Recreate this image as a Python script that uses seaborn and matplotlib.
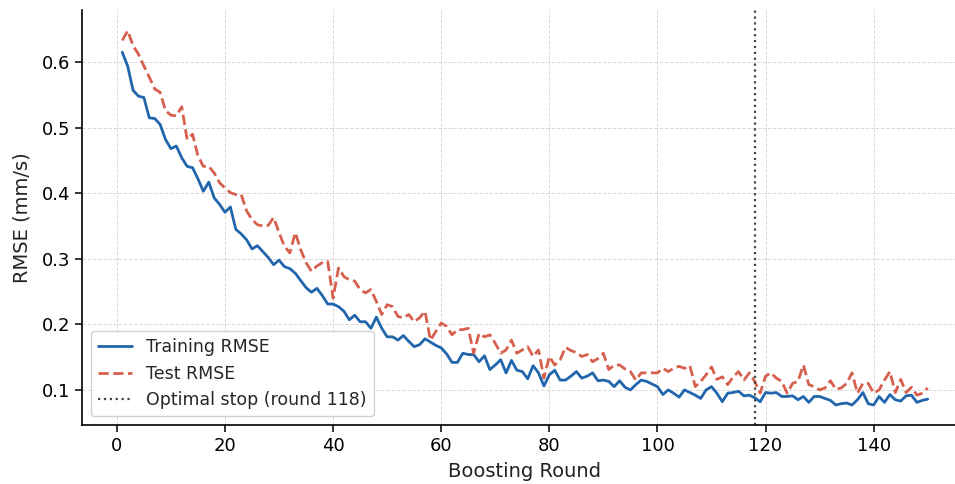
import numpy as np
import pandas as pd
import matplotlib
matplotlib.use("Agg")
import matplotlib.pyplot as plt
import seaborn as sns
from matplotlib.lines import Line2D

rounds = list(range(1, 151))

train_rmse = [
    0.615, 0.594, 0.557, 0.548, 0.546, 0.515, 0.514, 0.505, 0.482, 0.468,
    0.472, 0.454, 0.441, 0.439, 0.422, 0.403, 0.417, 0.393, 0.383, 0.371,
    0.379, 0.345, 0.338, 0.329, 0.315, 0.320, 0.311, 0.302, 0.291, 0.298,
    0.288, 0.285, 0.278, 0.267, 0.256, 0.249, 0.255, 0.244, 0.231, 0.231,
    0.227, 0.220, 0.207, 0.214, 0.204, 0.204, 0.194, 0.211, 0.194, 0.181,
    0.181, 0.176, 0.183, 0.174, 0.166, 0.169, 0.178, 0.173, 0.168, 0.164,
    0.155, 0.142, 0.142, 0.156, 0.154, 0.154, 0.143, 0.152, 0.131, 0.138,
    0.146, 0.126, 0.145, 0.130, 0.128, 0.117, 0.137, 0.126, 0.106, 0.123,
    0.130, 0.115, 0.115, 0.121, 0.128, 0.118, 0.121, 0.126, 0.114, 0.115,
    0.113, 0.105, 0.114, 0.104, 0.100, 0.108, 0.115, 0.113, 0.109, 0.105,
    0.093, 0.100, 0.095, 0.089, 0.100, 0.096, 0.092, 0.087, 0.100, 0.105,
    0.095, 0.082, 0.095, 0.096, 0.098, 0.091, 0.092, 0.088, 0.082, 0.096,
    0.095, 0.096, 0.090, 0.090, 0.091, 0.085, 0.090, 0.081, 0.090, 0.090,
    0.087, 0.084, 0.077, 0.079, 0.080, 0.077, 0.085, 0.096, 0.079, 0.077,
    0.090, 0.081, 0.093, 0.085, 0.083, 0.091, 0.092, 0.081, 0.084, 0.086,
]

test_rmse = [
    0.633, 0.648, 0.625, 0.612, 0.594, 0.577, 0.559, 0.554, 0.526, 0.519,
    0.518, 0.532, 0.482, 0.490, 0.457, 0.441, 0.441, 0.431, 0.416, 0.408,
    0.401, 0.398, 0.398, 0.373, 0.360, 0.352, 0.350, 0.351, 0.363, 0.340,
    0.319, 0.309, 0.340, 0.314, 0.294, 0.281, 0.289, 0.294, 0.296, 0.240,
    0.286, 0.273, 0.268, 0.266, 0.253, 0.248, 0.253, 0.235, 0.215, 0.230,
    0.227, 0.212, 0.210, 0.215, 0.204, 0.210, 0.220, 0.176, 0.189, 0.202,
    0.197, 0.184, 0.192, 0.192, 0.194, 0.156, 0.186, 0.181, 0.184, 0.171,
    0.156, 0.161, 0.176, 0.156, 0.161, 0.166, 0.151, 0.161, 0.118, 0.151,
    0.138, 0.146, 0.165, 0.160, 0.157, 0.151, 0.154, 0.143, 0.148, 0.156,
    0.131, 0.138, 0.138, 0.132, 0.128, 0.115, 0.126, 0.126, 0.126, 0.126,
    0.133, 0.128, 0.133, 0.136, 0.133, 0.137, 0.105, 0.113, 0.123, 0.135,
    0.116, 0.120, 0.108, 0.120, 0.128, 0.115, 0.126, 0.113, 0.095, 0.121,
    0.126, 0.118, 0.113, 0.095, 0.110, 0.113, 0.138, 0.108, 0.105, 0.100,
    0.103, 0.114, 0.101, 0.103, 0.110, 0.126, 0.095, 0.110, 0.110, 0.095,
    0.100, 0.115, 0.128, 0.096, 0.116, 0.096, 0.104, 0.092, 0.095, 0.103,
]

optimal_round = 118
series_names = ["Training RMSE", "Test RMSE"]

df = pd.DataFrame({
    "Round": rounds * 2,
    "RMSE": train_rmse + test_rmse,
    "Set": [series_names[0]] * len(rounds) + [series_names[1]] * len(rounds),
})

sns.set_theme(style="ticks")
plt.rcParams["font.family"] = ["DejaVu Sans"]

fig = plt.figure(figsize=(9.55, 4.84), dpi=100)
ax = fig.add_axes([82 / 955, 1 - 425 / 484, (968 - 82) / 955, (425 - 10) / 484])

sns.lineplot(
    data=df, x="Round", y="RMSE", hue="Set", style="Set",
    palette={series_names[0]: "#2166ac", series_names[1]: "#d6604d"},
    dashes={series_names[0]: "", series_names[1]: (3.7, 1.6)},
    linewidth=2, ax=ax, legend=False,
)

ax.axvline(optimal_round, color="#444444", linestyle=":", linewidth=1.6)

ax.set_xlim(-6.45, 157.45)
ax.set_ylim(0.0465, 0.6795)

ax.grid(True, linestyle="--", color="#d0d0d0", linewidth=0.7, alpha=0.8)
ax.set_axisbelow(True)
for side in ["top", "right"]:
    ax.spines[side].set_visible(False)
for side in ["left", "bottom"]:
    ax.spines[side].set_color("black")
    ax.spines[side].set_linewidth(1.2)

ax.tick_params(axis="both", labelsize=13, colors="black", length=5, width=1.1)
ax.set_xlabel("Boosting Round", fontsize=14, color="#222222", labelpad=5)
ax.set_ylabel("RMSE (mm/s)", fontsize=14, color="#222222", labelpad=7)

handles = [
    Line2D([0], [0], color="#2166ac", lw=2),
    Line2D([0], [0], color="#d6604d", lw=2, linestyle="--"),
    Line2D([0], [0], color="#444444", lw=1.6, linestyle=":"),
]
labels = series_names + [f"Optimal stop (round {optimal_round})"]
ax.legend(handles, labels, loc="lower left", fontsize=12.5, frameon=True,
          framealpha=0.9, edgecolor="#cccccc", bbox_to_anchor=(0.0, 0.0))

fig.savefig("out.png", dpi=100)
